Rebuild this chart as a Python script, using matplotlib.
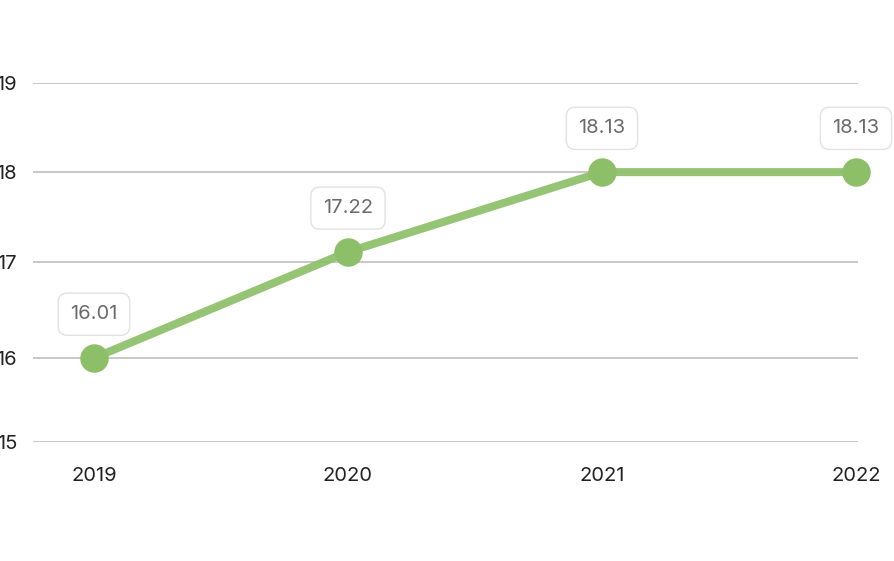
import matplotlib
matplotlib.use("Agg")
import matplotlib.pyplot as plt

years = ["2019", "2020", "2021", "2022"]
values = [16.01, 17.22, 18.13, 18.13]
value_labels = ["16.01", "17.22", "18.13", "18.13"]
ytick_values = [15.055, 16.01, 17.11, 18.13, 19.15]
ytick_labels = ["15", "16", "17", "18", "19"]

plt.rcParams['font.family'] = ['Inter', 'DejaVu Sans']

W, H = 894, 561
fig = plt.figure(figsize=(W / 100, H / 100), dpi=100)
left, right = 33 / W, 858 / W
top, bottom = 82.7 / H, 441.7 / H
ax = fig.add_axes([left, 1 - bottom, right - left, bottom - top])

x = list(range(len(years)))
green = "#8dbf69"
ax.plot(x, values, color=green, lw=5.8, alpha=0.92, solid_capstyle="round",
        zorder=3, clip_on=False)
ax.plot(x, values, linestyle="none", marker="o", ms=20.5, color=green,
        markeredgewidth=0, zorder=4, clip_on=False)

for xi, v, lab in zip(x, values, value_labels):
    ax.annotate(lab, (xi, v), xytext=(0, 31.5), textcoords="offset points",
                ha="center", va="center", fontsize=14.5, color="#6b6b6b",
                bbox=dict(boxstyle="round,pad=0.6,rounding_size=0.45",
                          fc="white", ec="#e2e2e2", lw=1.0),
                zorder=5, annotation_clip=False)

ax.set_xlim(-0.24, 3.008)
ax.set_ylim(ytick_values[0], ytick_values[-1])
ax.set_yticks(ytick_values)
ax.set_yticklabels(ytick_labels)
ax.set_xticks(x)
ax.set_xticklabels(years)
ax.yaxis.grid(True, color="#c8c8c8", lw=1.4, zorder=1)
ax.set_axisbelow(True)
for s in ax.spines.values():
    s.set_visible(False)
ax.tick_params(axis="y", length=0, pad=11.5, labelsize=14.5, labelcolor="#222222")
ax.tick_params(axis="x", length=0, pad=18, labelsize=14.5, labelcolor="#222222")

fig.savefig("out.png", dpi=100)
